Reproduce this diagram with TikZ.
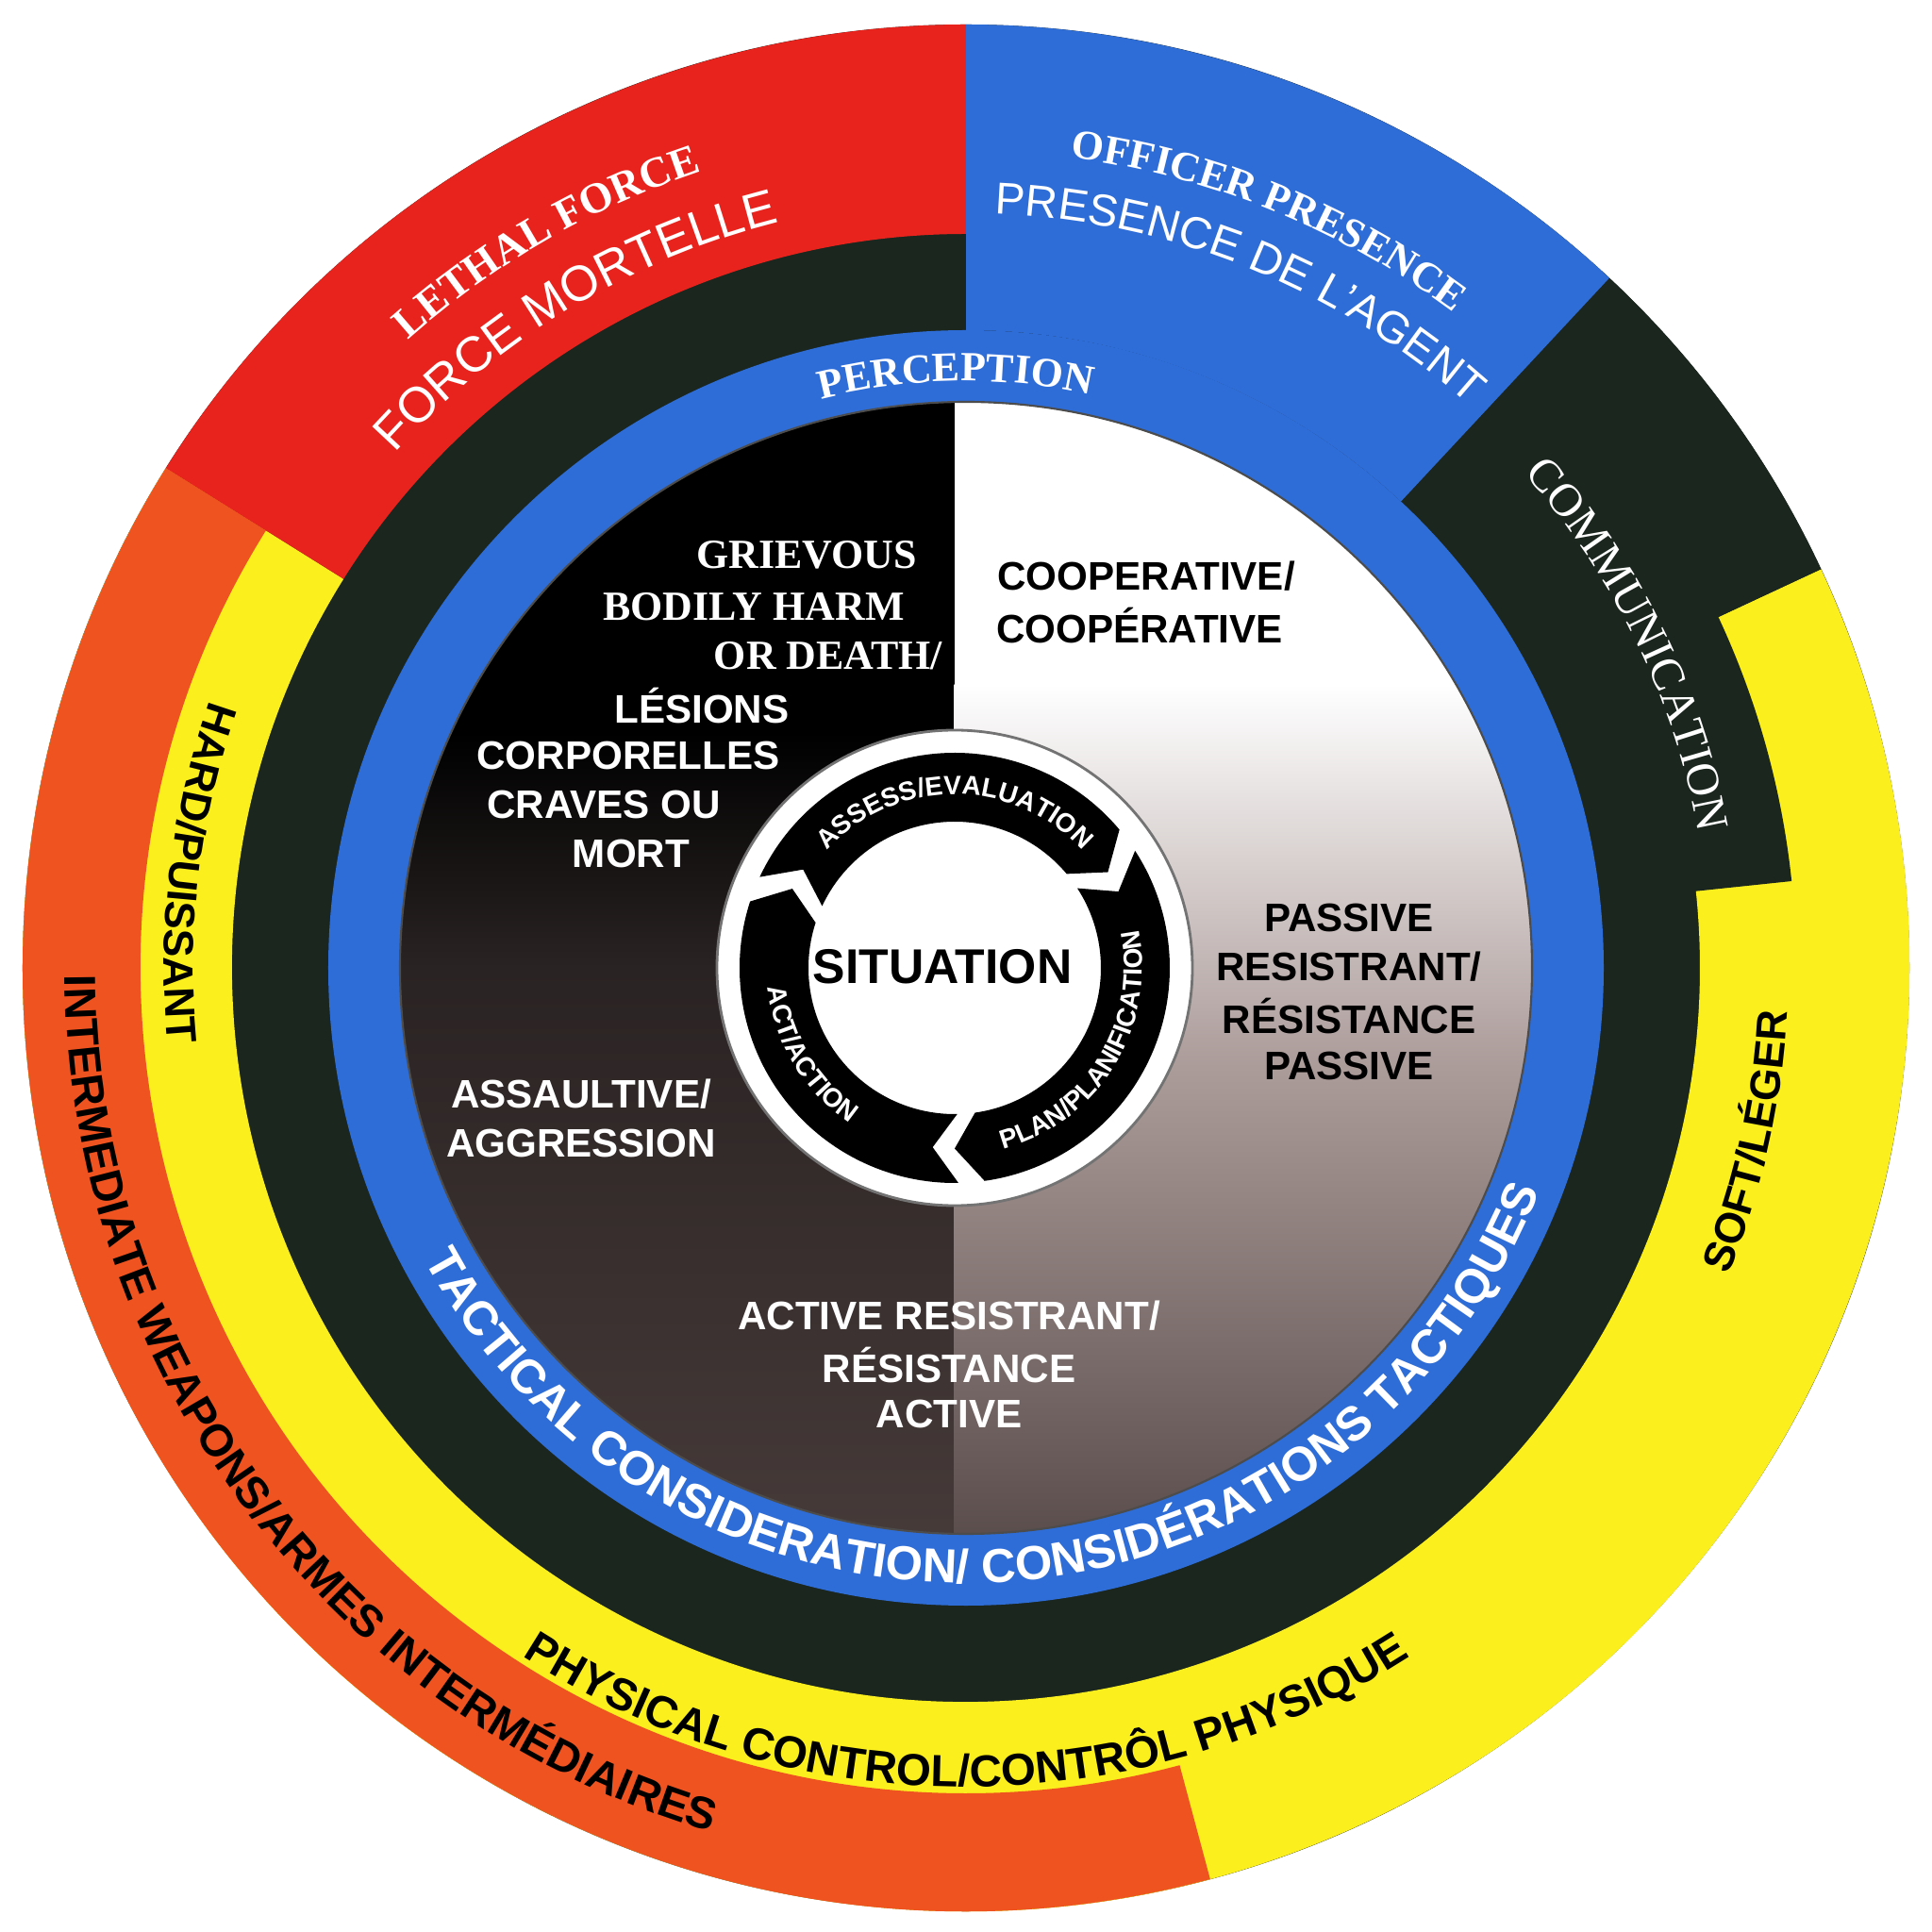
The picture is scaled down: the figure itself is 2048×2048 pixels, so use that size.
\documentclass[tikz,border=0pt]{standalone}
\usepackage{fontspec}
\setmainfont{Liberation Serif}
\setsansfont{Liberation Sans}
\usetikzlibrary{decorations.text}
\definecolor{redc}{HTML}{E8231D}
\definecolor{orangec}{HTML}{EF5420}
\definecolor{yellowc}{HTML}{FBEF1E}
\definecolor{dkgreen}{HTML}{1B261F}
\definecolor{bluec}{HTML}{2E6DD8}
\definecolor{brownc}{HTML}{4A3E3C}
\definecolor{midpink}{HTML}{AC9C9A}
\definecolor{midleft}{HTML}{2A2323}
\newcommand\annsec[5]{\fill[#1] (#2:#4) arc[start angle=#2,end angle=#3,radius=#4] -- (#3:#5) arc[start angle=#3,end angle=#2,radius=#5] -- cycle;}
\newcommand\arctext[6]{\path[decorate,decoration={text along path,text align=center,text color=#2,text={|#1|#6}}] (#4:#3) arc[start angle=#4,end angle=#5,radius=#3];}
\newcommand\mychev[2]{\fill[black] (#1:228) arc[start angle=#1,end angle=#2,radius=228] -- (#2-8:191.5) -- (#2:155) arc[start angle=#2,end angle=#1,radius=155] -- (#1-8:191.5) -- cycle;}
\newcommand\sfb[1]{\sffamily\bfseries\fontsize{#1}{#1}\selectfont}
\newcommand\rmb[1]{\rmfamily\bfseries\fontsize{#1}{#1}\selectfont}
\begin{document}
\begin{tikzpicture}[x=0.1mm,y=0.1mm,
  inw/.style={text=white,font=\sfb{12}},
  inb/.style={text=black,font=\sfb{12}},
  ins/.style={text=white,font=\rmb{12.5}}]
\useasboundingbox (-1024,-1022) rectangle (1024,1026);
\fill[white] (-1024,-1022) rectangle (1024,1026);
% outer rings
\fill[dkgreen] (0,0) circle (1000);
\annsec{yellowc}{148}{385}{778}{1000}
\annsec{orangec}{148}{285}{875}{1000}
\annsec{dkgreen}{6}{47.5}{770}{880}
\annsec{dkgreen}{25}{47.5}{870}{1000}
\annsec{redc}{90}{148}{778}{1000}
\annsec{bluec}{47}{90}{676}{1000}
\fill[bluec] (0,0) circle (676);
% inner disc
\begin{scope}
\clip (0,0) circle (600);
\fill[black] (-700,250) rectangle (-12,700);
\shade[top color=black,bottom color=midleft] (-700,0) rectangle (-12,250.5);
\shade[top color=midleft,bottom color=brownc] (-700,-700) rectangle (-12,0.5);
\fill[white] (-12.5,300) rectangle (700,700);
\shade[top color=white,bottom color=midpink] (-12.5,-100) rectangle (700,300.5);
\shade[top color=midpink,bottom color=brownc] (-12.5,-700) rectangle (700,-99.5);
\end{scope}
\draw[black!70,line width=0.6pt] (0,0) circle (600);
% ring texts
\arctext{\rmb{13}}{white}{890}{150}{90}{LETHAL FORCE}
\arctext{\sffamily\fontsize{15}{15}\selectfont}{white}{815}{155}{87}{FORCE MORTELLE}
\arctext{\rmb{12.5}}{white}{866}{98}{38}{OFFICER PRESENCE}
\arctext{\sffamily\fontsize{13.5}{13.5}\selectfont}{white}{800}{100}{36}{PRESENCE DE L'AGENT}
\arctext{\rmb{12.5}}{white}{622}{116}{66}{PERCEPTION}
\arctext{\rmfamily\fontsize{14}{14}\selectfont}{white}{790}{56}{-4}{COMMUNICATION}
\arctext{\sfb{12.8}}{black}{850}{148}{198}{HARD/PUISSANT}
\arctext{\sfb{13.5}}{black}{955}{172}{262}{INTERMEDIATE WEAPONS/ARMES INTERMÉDIAIRES}
\arctext{\sfb{13.5}}{black}{868}{225}{315}{PHYSICAL CONTROL/CONTRÔL PHYSIQUE}
\arctext{\sfb{12.8}}{black}{872}{-40}{15}{SOFT/LÉGER}
\arctext{\sfb{14.4}}{white}{652}{195}{352}{TACTICAL CONSIDERATION/ CONSIDÉRATIONS TACTIQUES}
% inner texts
\node[ins] (g1) at (-169,438) {GRIEVOUS};
\node[ins] (g2) at (-225,383) {BODILY HARM};
\node[ins] (g3) at (-146,331) {OR DEATH/};
\node[inw] (g4) at (-280,278) {LÉSIONS};
\node[inw] (g5) at (-358,225) {CORPORELLES};
\node[inw] (g6) at (-384,173) {CRAVES OU};
\node[inw] (g7) at (-355,121) {MORT};
\node[inb] (c1) at (191,415) {COOPERATIVE/};
\node[inb] (c2) at (184,363) {COOPÉRATIVE};
\node[inb] (p1) at (406,53) {PASSIVE};
\node[inb] (p2) at (406,1) {RESISTRANT/};
\node[inb] (p3) at (406,-51) {RÉSISTANCE};
\node[inb] (p4) at (406,-104) {PASSIVE};
\node[inw] (a1) at (-408,-134) {ASSAULTIVE/};
\node[inw] (a2) at (-408,-186) {AGGRESSION};
\node[inw] (r1) at (-18,-369) {ACTIVE RESISTRANT/};
\node[inw] (r2) at (-18,-421) {RÉSISTANCE};
\node[inw] (r3) at (-18,-473) {ACTIVE};
% centre
\begin{scope}[shift={(-12,0)}]
\fill[white,draw=black!55,line width=0.8pt] (0,0) circle (252);
\mychev{155}{40}
\mychev{33}{-82}
\mychev{271}{162}
\arctext{\sfb{8}}{white}{184}{150}{30}{ASSESS/EVALUATION}
\arctext{\sfb{8}}{white}{199}{-90}{27}{PLAN/PLANIFICATION}
\arctext{\sfb{8}}{white}{199}{175}{247}{ACT/ACTION}
\node[text=black,font=\sfb{14.7}] (sit) at (-13,1) {SITUATION};
\end{scope}
\end{tikzpicture}
\end{document}
